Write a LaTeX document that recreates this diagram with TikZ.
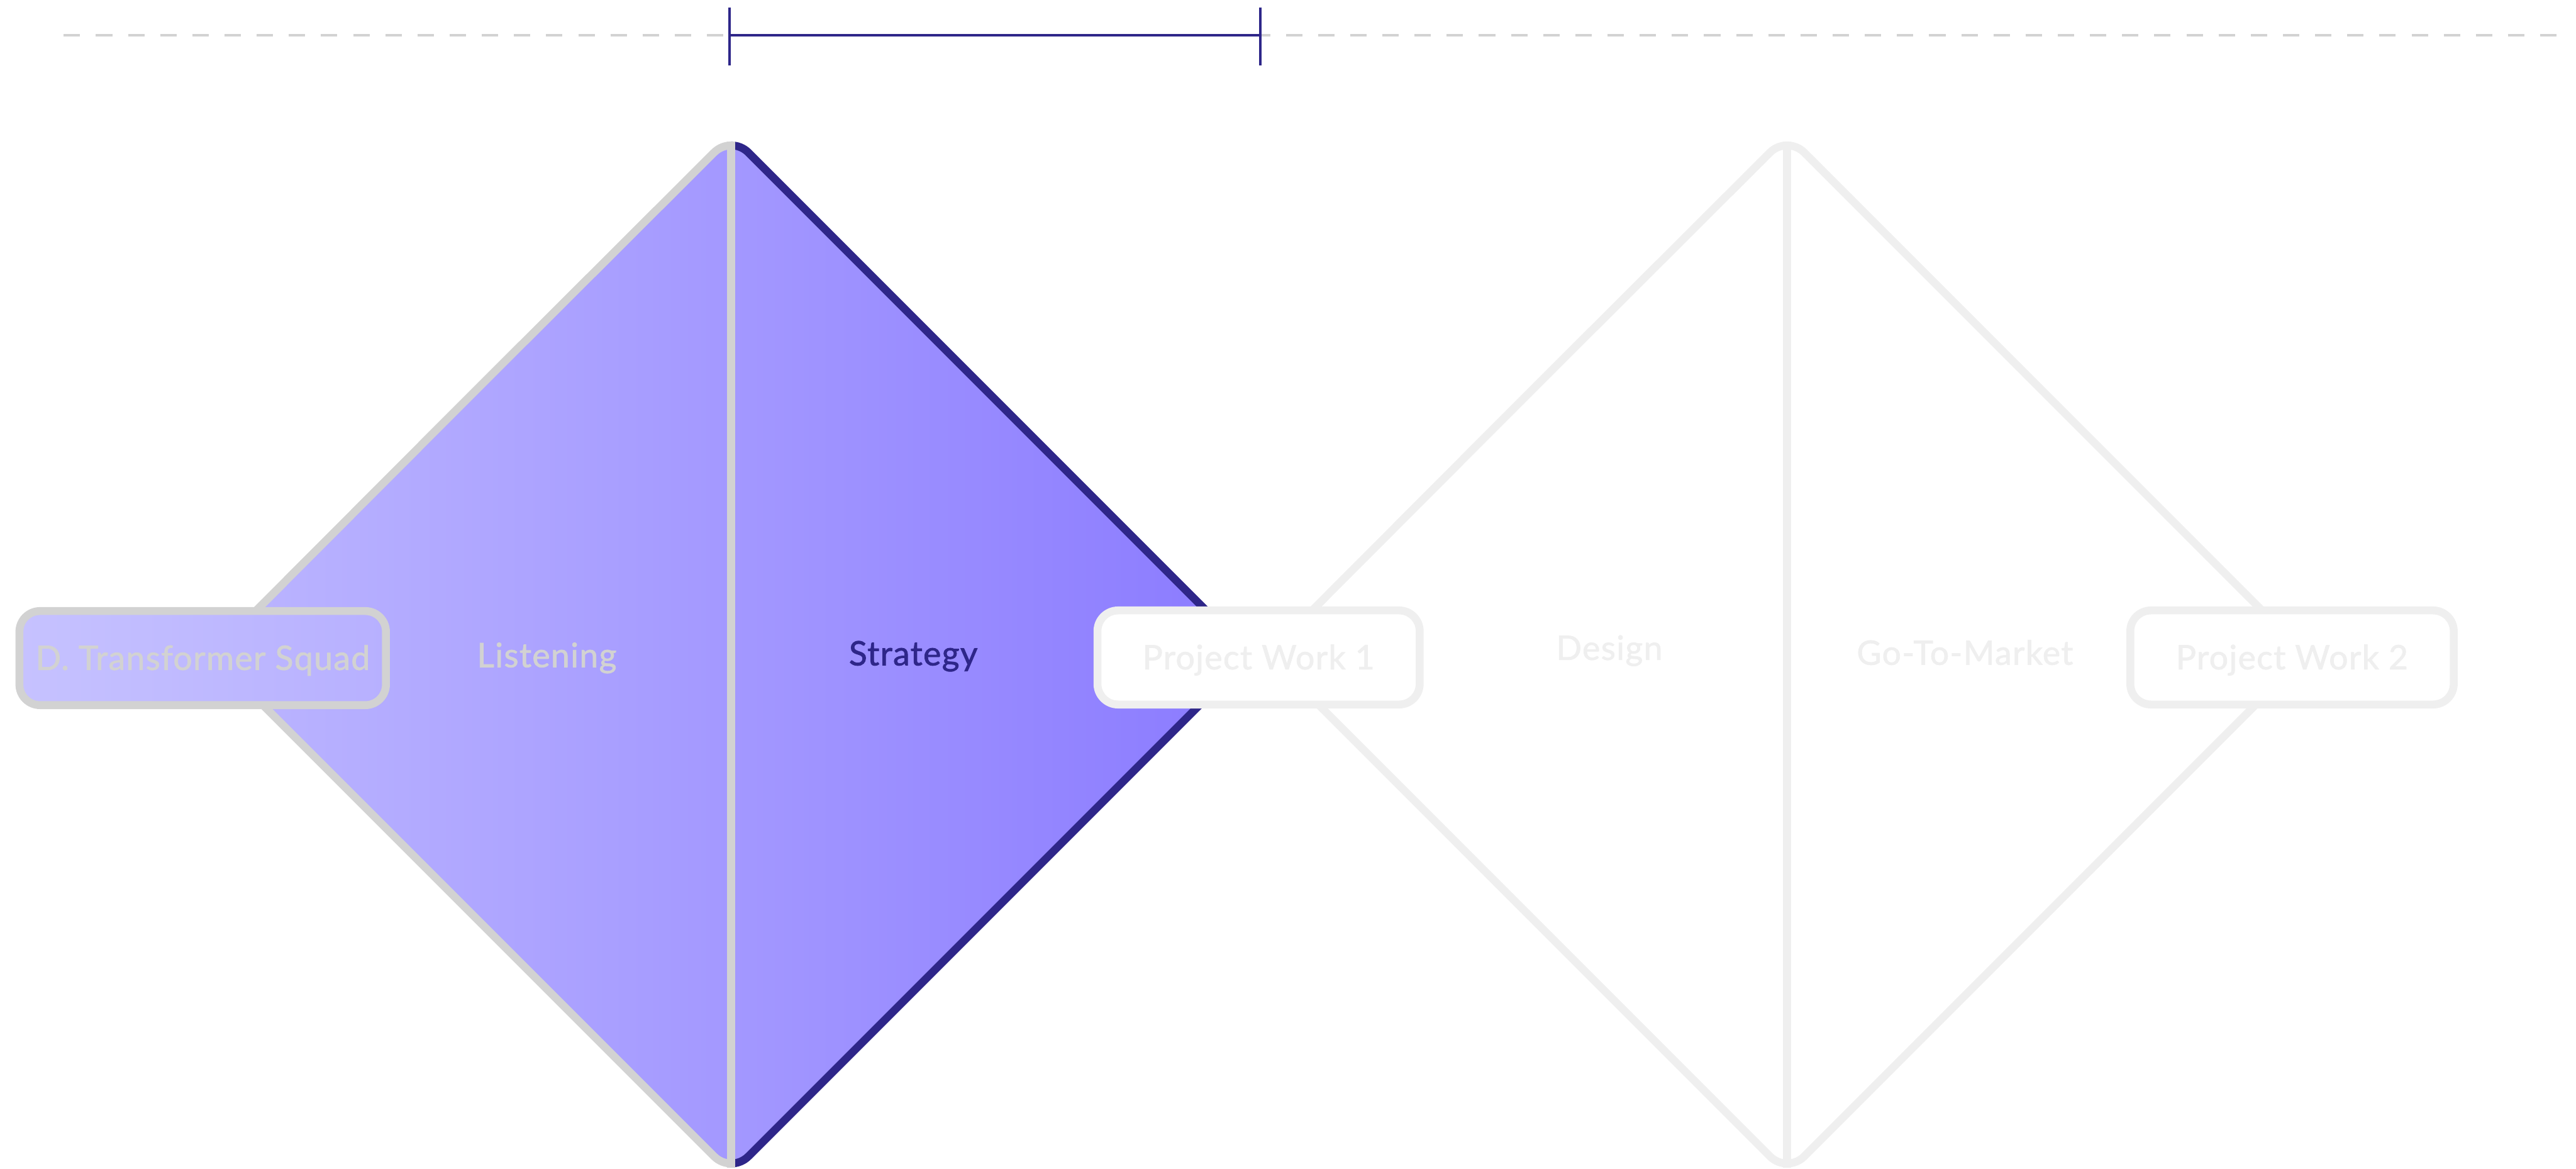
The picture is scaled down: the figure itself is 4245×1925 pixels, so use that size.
\documentclass[tikz,border=0pt]{standalone}
\usepackage{fontspec}
\setmainfont{Lato}
\newfontfamily\phasefont{Lato}[FakeBold=1.4, LetterSpace=2.5]
\usetikzlibrary{positioning, calc}

\definecolor{ink}{HTML}{2E2689}
\definecolor{mist}{HTML}{D2D2D2}
\definecolor{fog}{HTML}{EFEFEF}
\definecolor{lavA}{HTML}{C6C2FF}
\definecolor{lavB}{HTML}{B7B0FF}
\definecolor{lavC}{HTML}{BCB6FF}
\definecolor{lavD}{HTML}{8A7AFF}

\begin{document}
\begin{tikzpicture}[
    x=1pt, y=-1pt,
    font=\phasefont\fontsize{55.5}{60}\selectfont,
    track/.style   ={draw=mist, line width=5pt, dash pattern=on 27pt off 26pt},
    span/.style    ={draw=ink, line width=5pt},
    spantick/.style={draw=ink, line width=4pt},
    rim/.style     ={line width=13pt, rounded corners=40pt},
    milestone/.style={rectangle, rounded corners=34pt, line width=13pt, minimum height=155pt,
                      inner sep=0pt, text height=39pt, text depth=0pt, align=center},
    phase/.style   ={anchor=base, inner sep=0pt},
]

\useasboundingbox (0,0) rectangle (4245,1925);

%==================== TIMELINE ====================

\coordinate (trackL) at (105,58);
\coordinate (trackR) at (4223,58);
\coordinate (spanL)  at (1202,58);
\coordinate (spanR)  at (2077,58);

\draw[track] (trackL) -- (trackR);
\draw[span]  (spanL) -- (spanR);
\draw[spantick] ($(spanL)+(0,-46)$) -- ($(spanL)+(0,50)$);
\draw[spantick] ($(spanR)+(0,-46)$) -- ($(spanR)+(0,50)$);

%==================== DIAMOND 1 (active) ====================

\shade[left color=lavC, right color=lavD, rounded corners=40pt]
  (777,650) -- (1205,223) -- (2060,1078) -- (1205,1933) -- (350,1078) -- cycle;

\begin{scope}
  \clip (0,0) rectangle (1205,1925);
  \draw[rim, mist] (777,650) -- (1205,223) -- (2060,1078) -- (1205,1933) -- (350,1078) -- cycle;
\end{scope}
\begin{scope}
  \clip (1205,0) rectangle (4245,1925);
  \draw[rim, ink] (777,650) -- (1205,223) -- (2060,1078) -- (1205,1933) -- (350,1078) -- cycle;
\end{scope}
\draw[mist, line width=13pt] (1205,233) -- (1205,1923);

%==================== DIAMOND 2 (upcoming) ====================

\draw[rim, fog] (2517,650) -- (2945,223) -- (3800,1078) -- (2945,1933) -- (2090,1078) -- cycle;
\draw[fog, line width=13pt] (2945,233) -- (2945,1923);

%==================== MILESTONES ====================

\node[milestone, draw=mist, left color=lavA, right color=lavB, minimum width=604pt, text=mist]
  (squad) at (334,1084) {D. Transformer Squad};
\node[milestone, draw=fog, fill=white, minimum width=531pt, text=fog]
  (pw1) at (2074,1083) {Project Work 1};
\node[milestone, draw=fog, fill=white, minimum width=533pt, text=fog]
  (pw2) at (3777,1083) {Project Work 2};

%==================== PHASES ====================

\node[phase, text=mist] (listening) at (901,1099)  {Listening};
\node[phase, text=ink]  (strategy)  at (1505,1096) {Strategy};
\node[phase, text=fog]  (design)    at (2652,1087) {Design};
\node[phase, text=fog]  (gtm)       at (3238,1095) {Go-To-Market};

\end{tikzpicture}
\end{document}
